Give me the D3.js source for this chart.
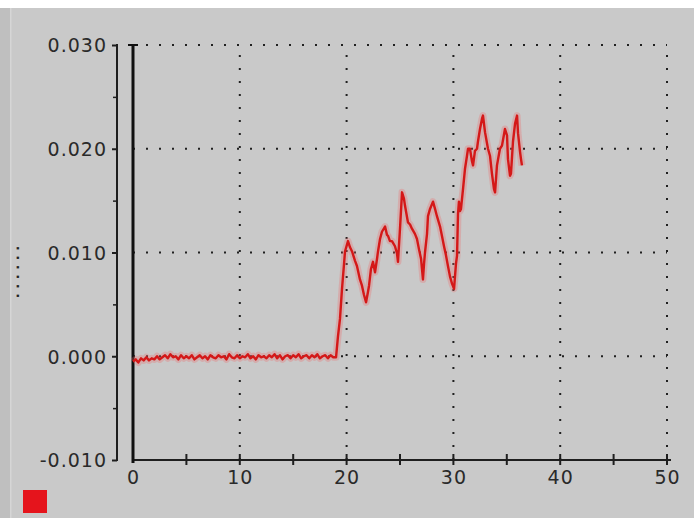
<!DOCTYPE html>
<html>
<head>
<meta charset="utf-8">
<script src="https://cdn.jsdelivr.net/npm/d3@7"></script>
<style>
  html, body { margin: 0; padding: 0; background: #ffffff; }
  svg { display: block; }
  .lbl { font-family: "DejaVu Sans", sans-serif; font-size: 19px; fill: #2a2a2a; letter-spacing: 1px; }
</style>
</head>
<body>
<svg id="chart" width="694" height="518"></svg>
<script>
// ---- data ----
const xMajorTicks = [0, 10, 20, 30, 40, 50];
const xMinorTicks = [5, 15, 25, 35, 45];
const yMajorTicks = [-0.01, 0, 0.01, 0.02, 0.03];
const yMinorTicks = [-0.005, 0.005, 0.015, 0.025];
const yTickLabels = ["-0.010", "0.000", "0.010", "0.020", "0.030"];
const xTickLabels = ["0", "10", "20", "30", "40", "50"];
const yTitle = "· · · · · ·";

// baseline segment (time, value)
const baselineSeries = [
  [0.00,-0.0005],[0.25,-0.0003],[0.50,-0.0006],[0.75,-0.0002],[1.00,-0.0004],[1.25,-0.0001],[1.50,-0.0004],[1.75,-0.0002],[2.00,-0.0003],[2.25,0.0000],
  [2.50,-0.0003],[2.75,-0.0001],[3.00,0.0001],[3.25,-0.0002],[3.50,0.0002],[3.75,-0.0001],[4.00,0.0000],[4.25,-0.0003],[4.50,0.0001],[4.75,-0.0002],
  [5.00,0.0000],[5.25,-0.0002],[5.50,0.0001],[5.75,-0.0003],[6.00,-0.0001],[6.25,0.0001],[6.50,-0.0002],[6.75,0.0000],[7.00,-0.0003],[7.25,0.0001],
  [7.50,-0.0001],[7.75,-0.0002],[8.00,0.0001],[8.25,-0.0001],[8.50,0.0000],[8.75,-0.0003],[9.00,0.0002],[9.25,-0.0001],[9.50,-0.0002],[9.75,0.0001],
  [10.00,-0.0002],[10.25,0.0000],[10.50,-0.0001],[10.75,0.0002],[11.00,-0.0002],[11.25,0.0000],[11.50,-0.0003],[11.75,0.0001],[12.00,-0.0001],[12.25,0.0000],
  [12.50,-0.0002],[12.75,0.0001],[13.00,-0.0001],[13.25,0.0002],[13.50,-0.0002],[13.75,0.0001],[14.00,-0.0003],[14.25,0.0000],[14.50,0.0001],[14.75,-0.0002],
  [15.00,0.0001],[15.25,-0.0001],[15.50,0.0002],[15.75,-0.0002],[16.00,0.0000],[16.25,0.0001],[16.50,-0.0002],[16.75,0.0001],[17.00,-0.0001],[17.25,0.0002],
  [17.50,-0.0002],[17.75,0.0000],[18.00,0.0001],[18.25,-0.0002],[18.50,0.0001],[18.75,-0.0001]
];
// active segment (time, value)
const activeSeries = [
  [19.01,-0.0001],[19.19,0.0019],[19.38,0.0036],[19.57,0.0065],[19.76,0.0089],[19.85,0.0101],[20.13,0.0111],[20.32,0.0105],
  [20.51,0.0101],[20.79,0.0092],[20.97,0.0087],[21.25,0.0074],[21.44,0.0068],[21.63,0.0059],[21.82,0.0052],[22.00,0.0062],
  [22.10,0.0068],[22.28,0.0084],[22.47,0.0091],[22.66,0.0081],[22.85,0.0094],[22.94,0.0101],[23.13,0.0113],[23.31,0.0120],
  [23.60,0.0125],[23.78,0.0117],[23.88,0.0116],[24.06,0.0111],[24.25,0.0111],[24.53,0.0106],[24.72,0.0099],[24.81,0.0091],
  [25.00,0.0123],[25.19,0.0158],[25.37,0.0152],[25.47,0.0145],[25.66,0.0134],[25.75,0.0129],[25.94,0.0127],[26.12,0.0123],
  [26.40,0.0118],[26.59,0.0113],[26.78,0.0103],[26.97,0.0094],[27.06,0.0084],[27.15,0.0074],[27.25,0.0089],[27.34,0.0100],
  [27.53,0.0118],[27.62,0.0135],[27.81,0.0142],[28.09,0.0149],[28.28,0.0142],[28.46,0.0135],[28.75,0.0125],[28.93,0.0116],
  [29.12,0.0106],[29.31,0.0097],[29.49,0.0087],[29.68,0.0077],[29.87,0.0070],[30.06,0.0065],[30.24,0.0089],[30.34,0.0097],
  [30.43,0.0137],[30.52,0.0149],[30.62,0.0140],[30.71,0.0142],[30.90,0.0161],[31.09,0.0181],[31.27,0.0193],[31.37,0.0200],
  [31.55,0.0200],[31.74,0.0188],[31.84,0.0184],[32.02,0.0198],[32.21,0.0200],[32.30,0.0207],[32.49,0.0219],[32.68,0.0229],
  [32.77,0.0232],[32.96,0.0216],[33.15,0.0205],[33.24,0.0200],[33.43,0.0193],[33.61,0.0176],[33.80,0.0161],[33.90,0.0158],
  [34.08,0.0184],[34.27,0.0195],[34.36,0.0200],[34.55,0.0203],[34.74,0.0214],[34.83,0.0219],[35.02,0.0213],[35.11,0.0190],
  [35.30,0.0174],[35.39,0.0176],[35.58,0.0207],[35.77,0.0224],[35.96,0.0232],[36.05,0.0215],[36.24,0.0197],[36.33,0.0190],
  [36.42,0.0184]
];

// ---- drawing ----
const svg = d3.select("#chart");
const W = 694, H = 518;

// background panels
svg.append("rect").attr("x", 0).attr("y", 0).attr("width", W).attr("height", H).attr("fill", "#c9c9c9");
svg.append("rect").attr("x", 0).attr("y", 0).attr("width", W).attr("height", 8).attr("fill", "#ffffff");
svg.append("rect").attr("x", 0).attr("y", 8).attr("width", 10).attr("height", H - 8).attr("fill", "#bfbfbf");
svg.append("rect").attr("x", 10).attr("y", 8).attr("width", 1.5).attr("height", H - 8).attr("fill", "#d6d6d6");

const x = d3.scaleLinear().domain([0, 50]).range([133, 667]);
const y = d3.scaleLinear().domain([-0.01, 0.03]).range([460, 45]);

// dotted grid
const grid = svg.append("g").attr("stroke", "#202020").attr("stroke-width", 2).attr("stroke-dasharray", "2,11");
grid.selectAll("line.h").data(yMajorTicks.filter(v => v > -0.01)).enter().append("line")
  .attr("x1", x(0)).attr("x2", x(50)).attr("y1", d => y(d)).attr("y2", d => y(d));
grid.selectAll("line.v").data(xMajorTicks.filter(v => v > 0)).enter().append("line")
  .attr("x1", d => x(d)).attr("x2", d => x(d)).attr("y1", y(-0.01)).attr("y2", y(0.03));

// y axis (offset left of the zero line)
const yAxisX = 117;
const yAxis = d3.axisLeft(y).tickValues(yMajorTicks).tickSize(5).tickPadding(5)
  .tickFormat((d, i) => yTickLabels[i]);
const gy = svg.append("g").attr("transform", `translate(${yAxisX},0)`).call(yAxis);
gy.select(".domain").remove();
gy.selectAll(".tick line").attr("stroke", "#1e1e1e").attr("stroke-width", 2);
gy.selectAll(".tick text").attr("class", "lbl").attr("dy", "0.36em");
svg.append("line").attr("x1", yAxisX).attr("x2", yAxisX).attr("y1", y(0.03) - 1).attr("y2", y(-0.01) + 1)
  .attr("stroke", "#1e1e1e").attr("stroke-width", 2);
const gyMinor = svg.append("g").attr("transform", `translate(${yAxisX},0)`)
  .call(d3.axisLeft(y).tickValues(yMinorTicks).tickSize(4).tickFormat(""));
gyMinor.select(".domain").remove();
gyMinor.selectAll(".tick line").attr("stroke", "#1e1e1e").attr("stroke-width", 1.5);

// x axis
const xAxis = d3.axisBottom(x).tickValues(xMajorTicks).tickSize(0).tickPadding(22)
  .tickFormat((d, i) => xTickLabels[i]);
const gx = svg.append("g").attr("transform", `translate(0,${y(-0.01)})`).call(xAxis);
gx.select(".domain").attr("d", `M${x(0)},0H${x(50) + 4}`).attr("stroke", "#1e1e1e").attr("stroke-width", 2);
gx.selectAll(".tick text").attr("class", "lbl").attr("dy", "0.1em");
const xtickVals = xMajorTicks.concat(xMinorTicks).filter(v => v > 0);
svg.append("g").selectAll("line").data(xtickVals).enter().append("line")
  .attr("x1", d => x(d)).attr("x2", d => x(d)).attr("y1", y(-0.01) - 6).attr("y2", y(-0.01) + 5)
  .attr("stroke", "#1e1e1e").attr("stroke-width", 2);

// thick zero line with cap
svg.append("line").attr("x1", x(0)).attr("x2", x(0)).attr("y1", y(0.03)).attr("y2", y(-0.01) + 3)
  .attr("stroke", "#101010").attr("stroke-width", 3);
svg.append("line").attr("x1", x(0) - 5).attr("x2", x(0) + 5).attr("y1", y(0.03)).attr("y2", y(0.03))
  .attr("stroke", "#101010").attr("stroke-width", 2);

// y title (illegible in source)
svg.append("text").attr("transform", "translate(22,272) rotate(-90)")
  .attr("text-anchor", "middle").attr("font-family", "DejaVu Sans").attr("font-size", 13)
  .attr("font-weight", "bold").attr("fill", "#222").text(yTitle);

// series
const line = d3.line().x(d => x(d[0])).y(d => y(d[1]));
const allPts = baselineSeries.concat(activeSeries);
svg.append("path").datum(allPts).attr("d", line).attr("fill", "none")
  .attr("stroke", "#f06a6a").attr("stroke-width", 7).attr("stroke-opacity", 0.3).attr("stroke-linejoin", "round");
svg.append("path").datum(allPts).attr("d", line).attr("fill", "none")
  .attr("stroke", "#d41818").attr("stroke-width", 2.4).attr("stroke-linejoin", "round");

// legend swatch
svg.append("rect").attr("x", 23).attr("y", 490).attr("width", 24).attr("height", 23).attr("fill", "#e5141c");
</script>
</body>
</html>
